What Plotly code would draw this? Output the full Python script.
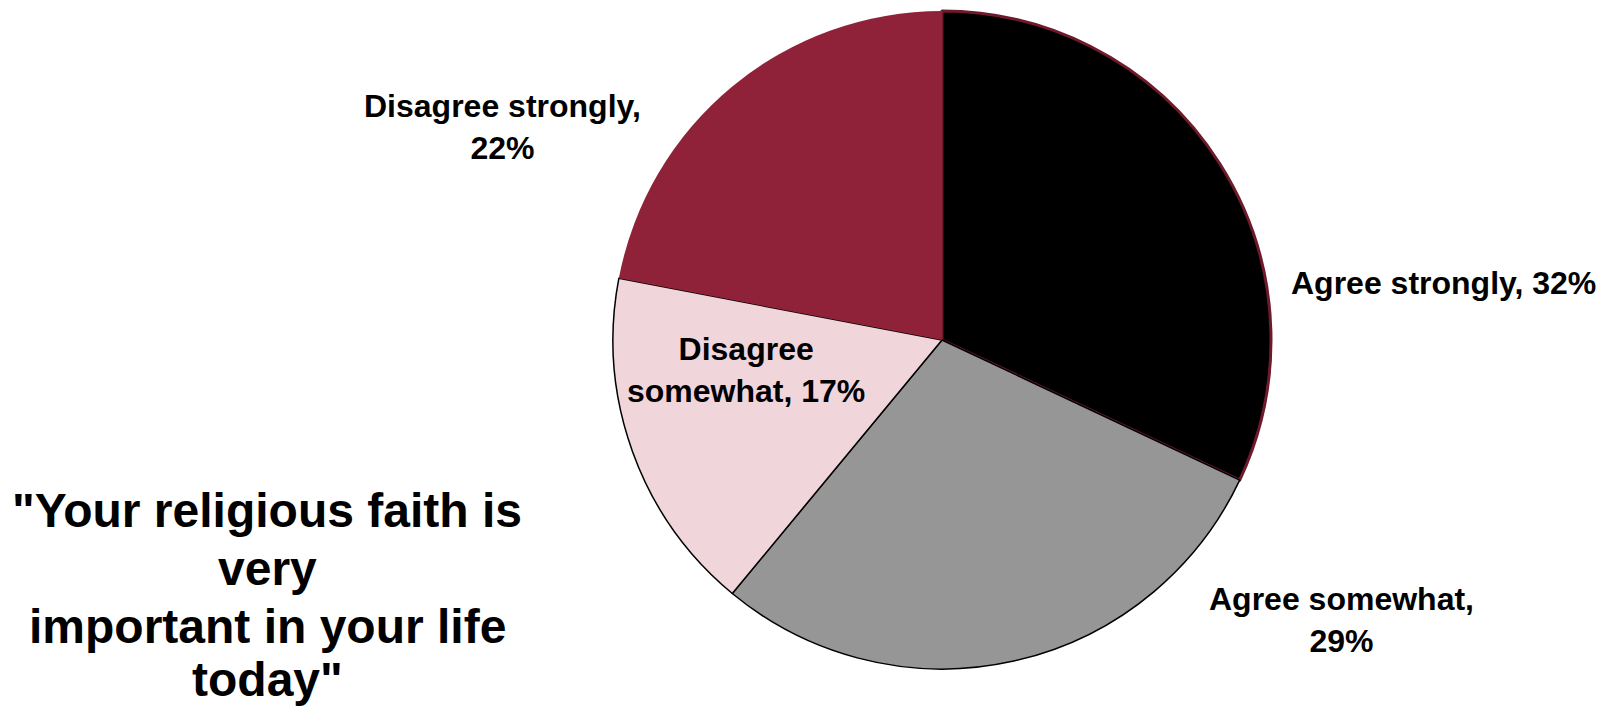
import plotly.graph_objects as go

# ---- data ----
categories = ["Agree strongly", "Agree somewhat", "Disagree somewhat", "Disagree strongly"]
values = [32, 29, 17, 22]
slice_colors = ["#000000", "#969696", "#f0d5db", "#8f2238"]
line_colors = ["#6e1a2b", "#000000", "#000000", "#8f2238"]
line_widths = [3, 1.5, 1.5, 0]
label_texts = ["Agree strongly, 32%", "Agree somewhat,<br>29%",
               "Disagree<br>somewhat, 17%", "Disagree strongly,<br>22%"]
title_lines = ['"Your religious faith is', "very", "important in your life", 'today"']

W, H = 1609, 706
cx, cy, r = 934, 332, 329

fig = go.Figure(go.Pie(
    labels=categories,
    values=values,
    sort=False,
    direction="clockwise",
    rotation=0,
    marker=dict(colors=slice_colors, line=dict(color=line_colors, width=line_widths)),
    textinfo="none",
    hoverinfo="label+percent",
    showlegend=False,
    domain=dict(x=[(cx - r) / W, (cx + r) / W], y=[(H - cy - r) / H, (H - cy + r) / H]),
))

FAM = "Arial"
font = dict(family=FAM, size=32, color="#000000", weight="bold")
label_pos = [(1435, 275), (1333, 612), (738, 362), (494, 119)]
for txt, (px, py) in zip(label_texts, label_pos):
    fig.add_annotation(text=txt, x=px / W, y=1 - py / H, xref="paper", yref="paper",
                       xanchor="center", yanchor="middle", showarrow=False, font=font, align="center")

title_y = [502, 560, 618, 671]
for txt, py in zip(title_lines, title_y):
    fig.add_annotation(text=txt, x=259 / W, y=1 - py / H, xref="paper", yref="paper",
                       xanchor="center", yanchor="middle", showarrow=False, align="center",
                       font=dict(family=FAM, size=48, color="#000000", weight="bold"))

fig.update_layout(width=W, height=H, margin=dict(l=0, r=0, t=0, b=0),
                  paper_bgcolor="white", plot_bgcolor="white")
fig.write_html("out.html")
